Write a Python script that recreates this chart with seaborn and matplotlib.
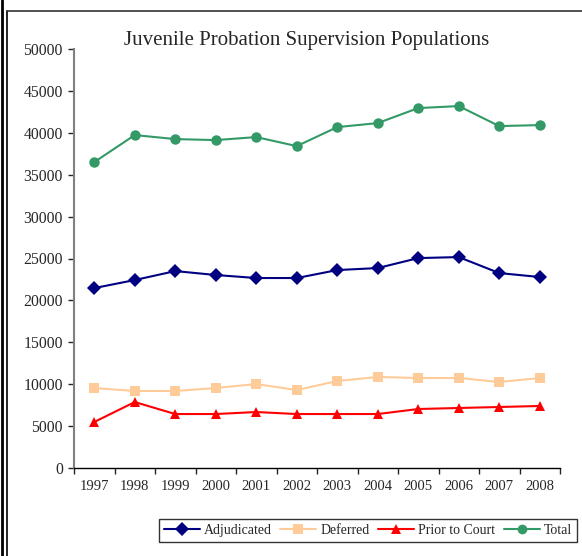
import pandas as pd
import numpy as np
import matplotlib.pyplot as plt
import seaborn as sns
from matplotlib.lines import Line2D

# values
years = [1997, 1998, 1999, 2000, 2001, 2002, 2003, 2004, 2005, 2006, 2007, 2008]
adjudicated = [21470, 22430, 23500, 23030, 22670, 22670, 23620, 23860, 25050, 25170, 23260, 22790]
deferred = [9540, 9190, 9190, 9540, 10020, 9300, 10380, 10860, 10740, 10740, 10260, 10740]
prior_to_court = [5490, 7870, 6440, 6440, 6680, 6440, 6440, 6440, 7040, 7160, 7280, 7400]
total = [36500, 39730, 39250, 39130, 39490, 38410, 40680, 41160, 42950, 43190, 40800, 40920]

series_names = ['Adjudicated', 'Deferred', 'Prior to Court', 'Total']
colors = ['#000080', '#FFCC99', '#FF0000', '#339966']
markers = ['D', 's', '^', 'o']

# long format for seaborn
rows = []
for name, vals in zip(series_names, [adjudicated, deferred, prior_to_court, total]):
    for y, v in zip(years, vals):
        rows.append({'Year': y, 'Population': v, 'Series': name})
df = pd.DataFrame(rows)

sns.set_style('white')
plt.rcParams['font.family'] = ['Liberation Serif', 'DejaVu Serif']

fig = plt.figure(figsize=(5.82, 5.56), dpi=100)
ax = fig.add_axes([74/582, 1 - 468/556, (560-74)/582, (468-49)/556])

sns.lineplot(data=df, x='Year', y='Population', hue='Series', style='Series',
             hue_order=series_names, style_order=series_names,
             palette=colors, markers=markers, dashes=False,
             markersize=7.5, markeredgewidth=0, linewidth=1.5, ax=ax, legend=False)

ax.set_xlim(1996.5, 2008.5)
ax.set_ylim(0, 50000)
ax.set_yticks(np.arange(0, 50001, 5000))
ax.set_xticks(years)
ax.set_xticklabels([str(y) for y in years])
ax.set_xticks(np.arange(1996.5, 2009, 1), minor=True)
ax.tick_params(axis='x', which='major', length=0, pad=9, labelsize=10.5)
ax.tick_params(axis='x', which='minor', length=4, width=1, direction='out', bottom=True)
ax.tick_params(axis='y', length=4, width=1, direction='out', left=True, labelsize=11.3, pad=4)
ax.set_xlabel('')
ax.set_ylabel('')

for s in ['top', 'right']:
    ax.spines[s].set_visible(False)
ax.spines['left'].set_color('#808080')
ax.spines['left'].set_linewidth(1.5)
ax.spines['bottom'].set_color('black')
ax.spines['bottom'].set_linewidth(1)

fig.text(307/582, 1 - 40/556, 'Juvenile Probation Supervision Populations',
         ha='center', va='center', fontsize=15)

handles = [Line2D([0], [0], color=c, marker=m, markersize=7, markeredgewidth=0, linewidth=1.5)
           for c, m in zip(colors, markers)]
leg = fig.legend(handles, series_names, loc='center', bbox_to_anchor=(368/582, 1 - 530.5/556),
                 ncol=4, frameon=True, fancybox=False, fontsize=10, handlelength=2.6,
                 handletextpad=0.3, columnspacing=0.6, borderpad=0.35, borderaxespad=0,
                 edgecolor='black')
leg.get_frame().set_linewidth(1)

# chart-area border as in the original document
fig.add_artist(Line2D([7/582, 7/582], [0, 1 - 11/556], color='black', linewidth=1.2))
fig.add_artist(Line2D([7/582, 1], [1 - 11/556, 1 - 11/556], color='#333333', linewidth=1.2))
fig.add_artist(Line2D([2/582, 2/582], [0, 1], color='black', linewidth=2))

fig.savefig('out.png', dpi=100)
